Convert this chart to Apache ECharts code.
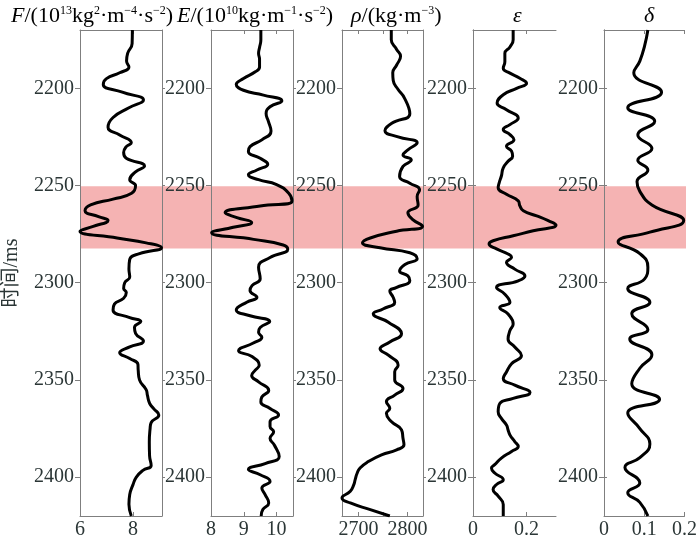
<!DOCTYPE html>
<html>
<head>
<meta charset="utf-8">
<script src="https://cdn.jsdelivr.net/npm/echarts@6/dist/echarts.min.js"></script>
<style>
  html, body { margin: 0; background: #fff; }
  #chart { width: 700px; height: 540px; }
</style>
</head>
<body>
<div id="chart"></div>
<script>
// time axis (ms), shared by all panels
const timeMin = 2170;
const timeMax = 2420;
const timeTicks = [2200, 2250, 2300, 2350, 2400];
const bandRange = [2250, 2282];

// F  (10^13 kg^2 m^-4 s^-2)
const fTime = [2170, 2177, 2182, 2186, 2189, 2192, 2195, 2198, 2202, 2206, 2210, 2215, 2220, 2224, 2228, 2230, 2233, 2236, 2240, 2243, 2247, 2250, 2254, 2257, 2260, 2263, 2266, 2268, 2271, 2273.5, 2277, 2279.5, 2282, 2285, 2288, 2293, 2297, 2300, 2303, 2305, 2308, 2311, 2314, 2318, 2320, 2323, 2326, 2330, 2333, 2336, 2339, 2342, 2345, 2350, 2355, 2358, 2362, 2365, 2368, 2372, 2375, 2382, 2389, 2394, 2396.5, 2400, 2404, 2409, 2414, 2420];
const fVal = [7.98, 7.97, 7.8, 7.76, 7.85, 7.5, 7.0, 6.88, 7.6, 8.4, 7.85, 7.25, 7.06, 7.5, 7.94, 7.75, 7.65, 7.75, 8.44, 8.1, 7.88, 8.1, 7.95, 7.25, 6.4, 6.19, 6.7, 7.06, 6.5, 6.0, 7.4, 8.5, 9.08, 8.25, 7.88, 7.85, 7.88, 7.69, 7.65, 7.75, 7.65, 7.3, 7.25, 7.88, 8.3, 8.06, 8.1, 8.4, 7.88, 7.5, 7.88, 8.19, 8.2, 8.25, 8.5, 8.55, 8.63, 8.8, 8.98, 8.69, 8.65, 8.62, 8.63, 8.69, 8.38, 8.13, 8.0, 7.88, 7.85, 7.94];

// E  (10^10 kg m^-1 s^-2)
const eTime = [2170, 2175, 2179, 2182, 2185, 2189, 2191.5, 2195, 2198, 2201, 2203.5, 2206.5, 2209.5, 2213, 2217, 2222, 2226.5, 2230, 2232.5, 2236, 2239, 2242, 2244.5, 2247, 2249.5, 2254, 2258, 2260.5, 2264, 2266.5, 2269, 2271.5, 2274.3, 2277.7, 2280.6, 2282.8, 2287, 2292, 2298, 2301.5, 2304, 2307.5, 2310, 2314, 2317, 2320, 2323, 2325.5, 2328, 2331, 2335, 2338, 2342.5, 2345, 2347.7, 2351, 2355.4, 2358.8, 2361.3, 2364.7, 2368, 2371.5, 2374, 2376.7, 2380, 2383.5, 2389.4, 2393, 2396, 2398.8, 2402.2, 2405.6, 2409, 2413.3, 2416.7, 2420];
const eVal = [9.52, 9.52, 9.48, 9.45, 9.48, 9.48, 9.35, 8.99, 8.77, 8.99, 9.6, 10.16, 9.8, 9.68, 9.75, 9.83, 9.55, 9.19, 9.14, 9.5, 9.73, 9.4, 9.14, 9.45, 10.0, 10.37, 10.47, 9.5, 8.43, 8.79, 9.24, 8.68, 8.02, 9.3, 10.2, 10.34, 9.8, 9.45, 9.5, 9.25, 9.19, 9.4, 9.09, 8.77, 9.19, 9.79, 9.5, 9.45, 9.55, 9.29, 8.84, 9.25, 9.47, 9.35, 9.24, 9.45, 9.76, 9.55, 9.52, 9.8, 10.06, 9.8, 9.8, 9.91, 9.8, 9.93, 10.08, 9.65, 9.14, 9.5, 9.8, 9.55, 9.65, 9.76, 9.58, 9.53];

// rho (kg m^-3)
const rTime = [2170, 2175, 2180, 2183.5, 2188, 2192, 2196, 2200.6, 2205, 2213, 2218, 2221.8, 2225, 2228, 2231.7, 2234.3, 2236.8, 2240.2, 2245.4, 2248.8, 2252.2, 2255.6, 2260, 2264, 2267.5, 2270.9, 2273.5, 2277, 2279.5, 2282, 2284.6, 2287.7, 2290.6, 2294, 2296.5, 2299, 2302.5, 2304.2, 2307.6, 2310, 2313.5, 2316, 2320.3, 2326.3, 2330.5, 2334, 2337.3, 2342.4, 2345.8, 2350, 2354.4, 2357.8, 2361.2, 2364.6, 2367.2, 2371.4, 2375.7, 2380, 2383.4, 2386, 2388.5, 2392, 2395.3, 2398, 2401.3, 2404, 2407.3, 2410.7, 2413.3, 2416.7, 2420];
const rVal = [2767, 2767, 2778, 2786, 2778, 2770, 2771, 2781, 2794, 2805, 2768, 2754, 2781, 2820, 2801, 2791, 2808, 2791, 2784, 2805, 2825, 2820, 2822, 2801, 2811, 2831, 2778, 2724, 2708, 2744, 2805, 2820, 2795, 2784, 2801, 2805, 2777, 2764, 2771, 2774, 2750, 2730, 2761, 2788, 2764, 2744, 2761, 2781, 2774, 2774, 2791, 2774, 2757, 2764, 2757, 2767, 2788, 2791, 2793, 2778, 2747, 2720, 2703, 2697, 2693, 2690, 2683, 2666, 2683, 2724, 2764];

// epsilon
const epsTime = [2170, 2175, 2178.7, 2182, 2186.3, 2189.7, 2192.2, 2194.8, 2197.4, 2200, 2203.3, 2207.6, 2211, 2215.3, 2218.7, 2221.2, 2223.8, 2226.4, 2229.8, 2232.3, 2234.9, 2237.5, 2240.9, 2245.1, 2248.5, 2251.1, 2254.5, 2257.9, 2260.4, 2263, 2265.6, 2268.1, 2270.3, 2273.3, 2275.8, 2278.4, 2280.1, 2282.6, 2285.2, 2286.9, 2289.5, 2293, 2296.5, 2299, 2302.5, 2305.9, 2310.1, 2312.7, 2316.1, 2321.2, 2324.6, 2328.9, 2333.1, 2337.4, 2341.7, 2345.9, 2349.3, 2352.7, 2356.5, 2359.5, 2362.1, 2366.4, 2369.8, 2373.2, 2375.7, 2378.3, 2381.7, 2384.3, 2386.8, 2390.2, 2393.6, 2395.3, 2397.9, 2401.3, 2403.8, 2406.4, 2409.8, 2414.1, 2420];
const epsVal = [0.15, 0.15, 0.138, 0.119, 0.119, 0.113, 0.138, 0.175, 0.2, 0.163, 0.113, 0.09, 0.125, 0.169, 0.138, 0.113, 0.138, 0.153, 0.125, 0.144, 0.148, 0.131, 0.113, 0.106, 0.098, 0.094, 0.125, 0.169, 0.175, 0.188, 0.238, 0.281, 0.31, 0.225, 0.15, 0.075, 0.06, 0.088, 0.131, 0.144, 0.125, 0.156, 0.194, 0.169, 0.088, 0.119, 0.138, 0.1, 0.131, 0.15, 0.138, 0.131, 0.156, 0.181, 0.144, 0.125, 0.113, 0.156, 0.213, 0.15, 0.1, 0.094, 0.106, 0.125, 0.131, 0.138, 0.156, 0.169, 0.144, 0.106, 0.081, 0.069, 0.081, 0.113, 0.088, 0.075, 0.094, 0.113, 0.113];

// delta
const delTime = [2170, 2178, 2186, 2192, 2202, 2210, 2217, 2224, 2231, 2237, 2242, 2248, 2253, 2260, 2268, 2274, 2279, 2285, 2292, 2298, 2303, 2310, 2316, 2324, 2329, 2337, 2344, 2352, 2360, 2367, 2375, 2383, 2390, 2395, 2403, 2408, 2413, 2420];
const delVal = [0.109, 0.101, 0.089, 0.074, 0.143, 0.059, 0.126, 0.084, 0.119, 0.084, 0.109, 0.082, 0.089, 0.119, 0.198, 0.114, 0.035, 0.089, 0.109, 0.101, 0.059, 0.114, 0.069, 0.109, 0.064, 0.119, 0.089, 0.069, 0.138, 0.059, 0.089, 0.114, 0.089, 0.052, 0.089, 0.059, 0.089, 0.109];

const serif = "'Liberation Serif', 'Times New Roman', serif";
const textColor = '#2b3636';
const frameColor = '#7f7f7f';
const plain = v => String(v);

const panels = [
  { left: 80,  width: 82, min: 6,    max: 9.1,  ticks: [6, 8],             labels: [6, 8],         time: fTime,   val: fVal },
  { left: 211, width: 82, min: 8,    max: 10.5, ticks: [8, 9, 10],         labels: [8, 9, 10],     time: eTime,   val: eVal },
  { left: 342, width: 81, min: 2666, max: 2832, ticks: [2700, 2750, 2800], labels: [2700, 2800],   time: rTime,   val: rVal },
  { left: 473, width: 83, min: 0,    max: 0.31, ticks: [0, 0.2],           labels: [0, 0.2],       time: epsTime, val: epsVal },
  { left: 604, width: 82, min: 0,    max: 0.2,  ticks: [0, 0.1, 0.2],      labels: [0, 0.1, 0.2],  time: delTime, val: delVal }
];

const gridTop = 30, gridHeight = 488;
const grids = [], xAxes = [], yAxes = [], series = [];

// band grid spanning all panels
grids.push({ left: 80, top: gridTop, width: 606, height: gridHeight });
xAxes.push({ gridIndex: 0, type: 'value', min: 0, max: 1, show: false });
yAxes.push({ gridIndex: 0, type: 'value', min: timeMin, max: timeMax, inverse: true, show: false });
series.push({
  type: 'line', xAxisIndex: 0, yAxisIndex: 0, data: [], z: 0, silent: true,
  markArea: {
    silent: true,
    itemStyle: { color: '#f5b3b3' },
    data: [[{ yAxis: bandRange[0] }, { yAxis: bandRange[1] }]]
  }
});

panels.forEach((p, i) => {
  const g = i + 1;
  grids.push({ left: p.left, top: gridTop, width: p.width, height: gridHeight });
  const axisLine = { show: true, lineStyle: { color: frameColor, width: 1 } };
  // bottom axis with labels
  xAxes.push({
    gridIndex: g, type: 'value', position: 'bottom', min: p.min, max: p.max, z: 5,
    axisLine: axisLine, splitLine: { show: false },
    axisTick: { inside: true, length: 4, lineStyle: { color: frameColor }, customValues: p.ticks },
    axisLabel: { customValues: p.labels, formatter: plain, color: textColor, fontFamily: serif, fontSize: 20, margin: 4 }
  });
  // top axis (frame + ticks only)
  xAxes.push({
    gridIndex: g, type: 'value', position: 'top', min: p.min, max: p.max, z: 5,
    axisLine: axisLine, splitLine: { show: false },
    axisTick: { inside: true, length: 4, lineStyle: { color: frameColor }, customValues: p.ticks },
    axisLabel: { show: false }
  });
  yAxes.push({
    gridIndex: g, type: 'value', position: 'left', min: timeMin, max: timeMax, inverse: true, z: 5,
    name: i === 0 ? '时间/ms' : '',
    nameLocation: 'middle', nameRotate: 90, nameGap: 58,
    nameTextStyle: { color: textColor, fontFamily: "'Liberation Serif', 'Noto Sans CJK SC', serif", fontSize: 20 },
    axisLine: axisLine, splitLine: { show: false },
    axisTick: { inside: false, length: 5, lineStyle: { color: frameColor }, customValues: timeTicks },
    axisLabel: { customValues: timeTicks, formatter: plain, color: textColor, fontFamily: serif, fontSize: 20, margin: 6 }
  });
  yAxes.push({
    gridIndex: g, type: 'value', position: 'right', min: timeMin, max: timeMax, inverse: true, z: 5,
    axisLine: axisLine, splitLine: { show: false },
    axisTick: { inside: false, length: 3, lineStyle: { color: frameColor }, customValues: timeTicks },
    axisLabel: { show: false }
  });
  series.push({
    type: 'line',
    xAxisIndex: 1 + i * 2, yAxisIndex: 1 + i * 2,
    data: p.val.map((v, k) => [v, p.time[k]]),
    smooth: 0.5, symbol: 'none', z: 6,
    lineStyle: { color: '#000', width: 3 }
  });
});

const titleStyle = {
  color: '#000', fontFamily: serif, fontSize: 22, fontWeight: 'normal',
  rich: {
    it: { fontStyle: 'italic', fontWeight: 'normal', fontFamily: serif, fontSize: 22, color: '#000' },
    n: { fontWeight: 'normal', fontFamily: serif, fontSize: 22, color: '#000' },
    sup: { fontWeight: 'normal', fontFamily: serif, fontSize: 12, color: '#000', verticalAlign: 'bottom', padding: [0, 0, 11, 0] }
  }
};

const titles = [
  { left: 6,   text: '{it|F}{n|/(10}{sup|13}{n|kg}{sup|2}{n|·m}{sup|−4}{n|·s}{sup|−2}{n|)}' },
  { left: 172, text: '{it|E}{n|/(10}{sup|10}{n|kg·m}{sup|−1}{n|·s}{sup|−2}{n|)}' },
  { left: 346, text: '{it|ρ}{n|/(kg·m}{sup|−3}{n|)}' },
  { left: 508, text: '{it|ε}' },
  { left: 639, text: '{it|δ}' }
].map(t => ({ left: t.left, top: 0, text: t.text, textStyle: titleStyle }));

const chart = echarts.init(document.getElementById('chart'));
chart.setOption({
  animation: false,
  backgroundColor: '#fff',
  title: titles,
  grid: grids,
  xAxis: xAxes,
  yAxis: yAxes,
  series: series
});
</script>
</body>
</html>
